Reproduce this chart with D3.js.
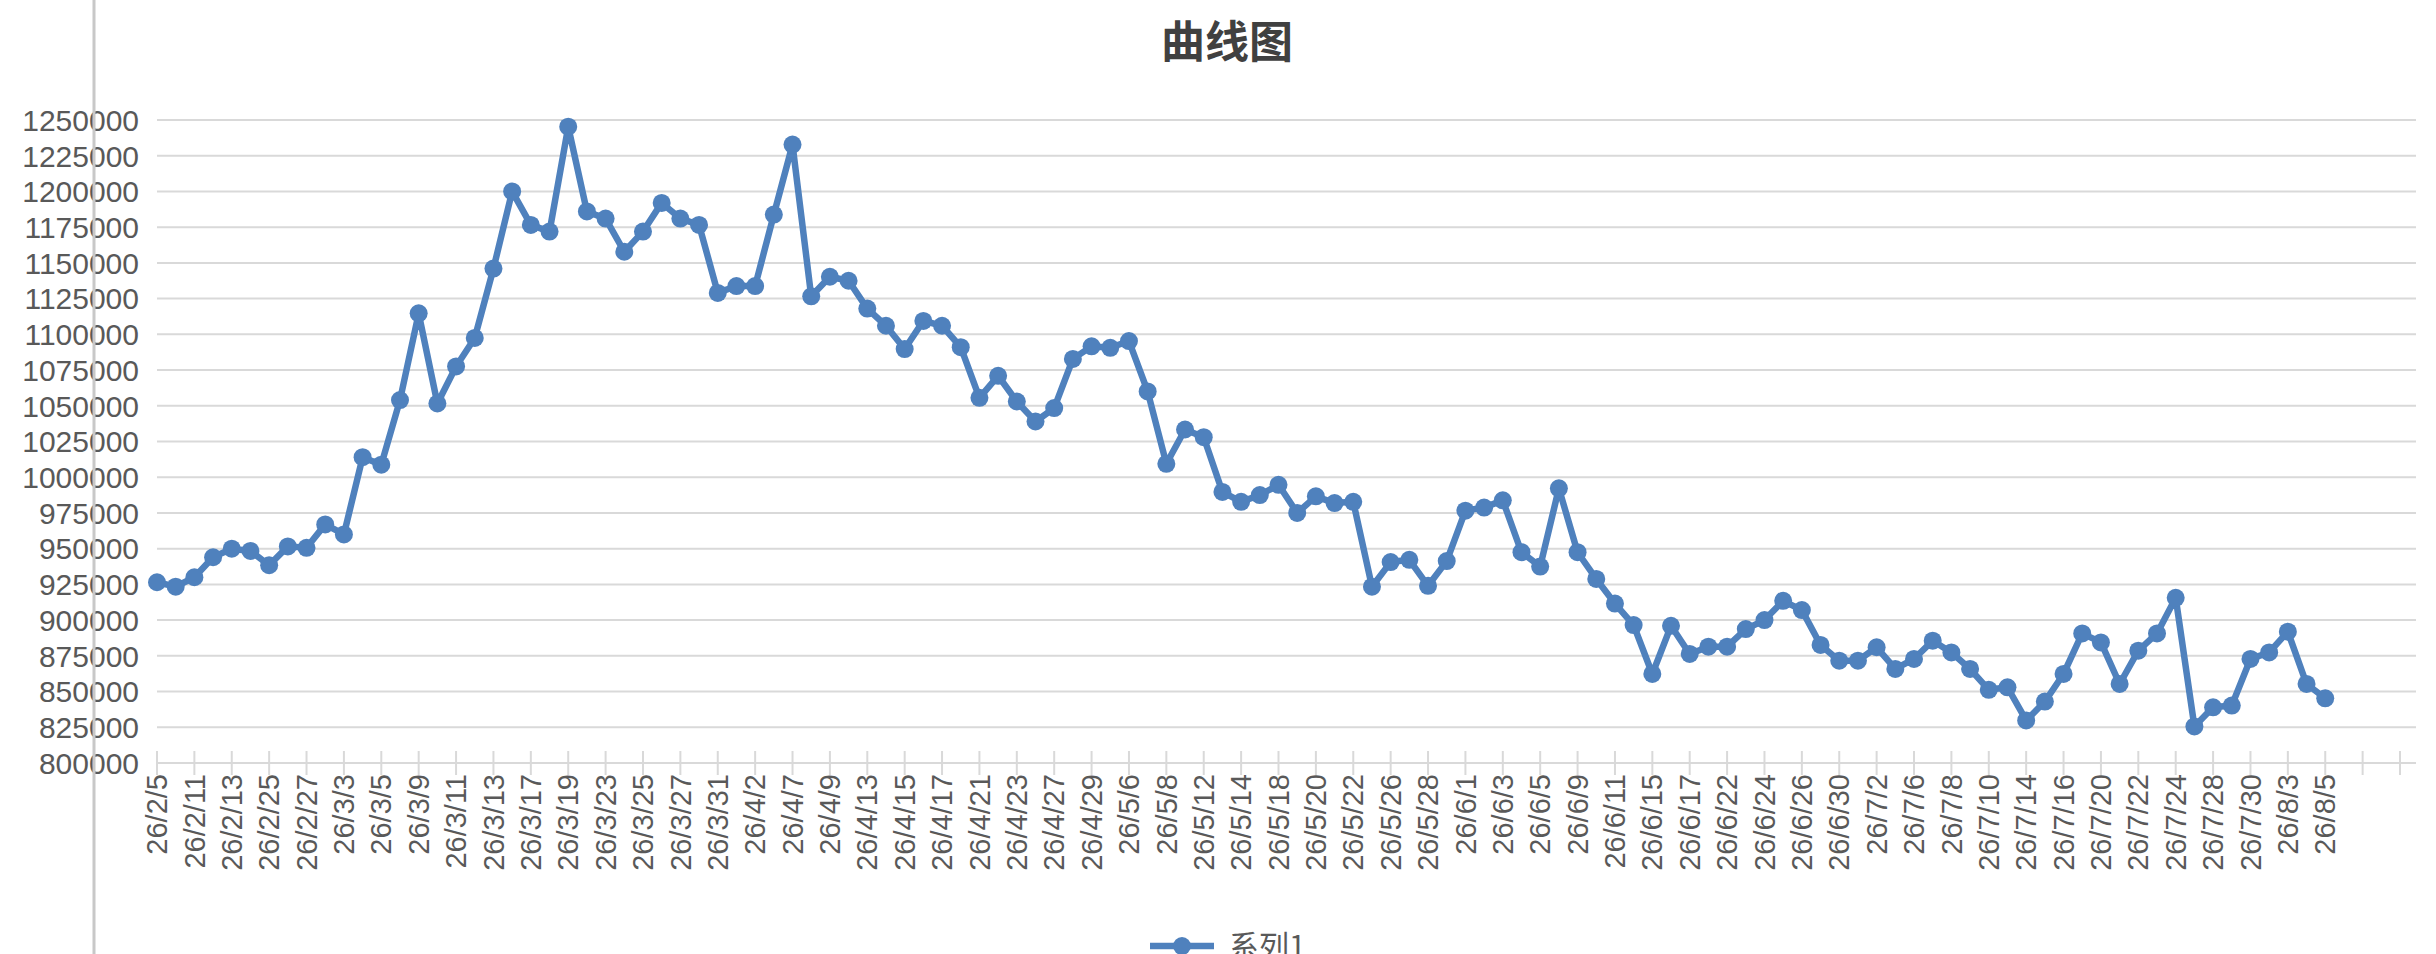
<!DOCTYPE html>
<html><head><meta charset="utf-8">
<script src="https://cdn.jsdelivr.net/npm/d3@7"></script>
<style>body{margin:0;background:#fff}svg{display:block}</style>
</head><body>
<svg id="c" width="2436" height="954"></svg>
<script>
const title = "曲线图";
const seriesName = "系列1";
const tickLabels = ["26/2/5","26/2/11","26/2/13","26/2/25","26/2/27","26/3/3","26/3/5","26/3/9","26/3/11","26/3/13","26/3/17","26/3/19","26/3/23","26/3/25","26/3/27","26/3/31","26/4/2","26/4/7","26/4/9","26/4/13","26/4/15","26/4/17","26/4/21","26/4/23","26/4/27","26/4/29","26/5/6","26/5/8","26/5/12","26/5/14","26/5/18","26/5/20","26/5/22","26/5/26","26/5/28","26/6/1","26/6/3","26/6/5","26/6/9","26/6/11","26/6/15","26/6/17","26/6/22","26/6/24","26/6/26","26/6/30","26/7/2","26/7/6","26/7/8","26/7/10","26/7/14","26/7/16","26/7/20","26/7/22","26/7/24","26/7/28","26/7/30","26/8/3","26/8/5"];
const values = [926500,923400,930000,944000,950000,948400,938400,951600,950600,967000,960000,1014000,1008800,1054000,1114700,1051600,1077500,1097500,1146000,1200000,1176600,1171900,1245300,1186000,1181000,1157800,1171900,1192000,1181000,1176600,1129000,1133800,1133800,1183800,1232800,1126600,1140300,1137500,1118000,1106000,1089700,1109400,1106000,1091000,1055600,1071000,1053000,1039000,1048400,1082800,1091600,1090600,1095300,1060000,1009400,1033400,1028000,989700,982800,987500,994700,975000,986600,981900,982800,923400,940600,942200,924000,941300,976600,978800,983800,947500,937500,992200,947500,928800,911600,896500,862300,896000,876300,881400,881400,893700,900000,913500,907000,882600,871600,871600,881000,865800,872800,885600,877400,865800,851200,853000,829800,843000,862300,890700,884400,855300,878600,890700,915600,825600,839000,840200,872800,877400,891900,855300,845300];
const yTicks = d3.range(800000, 1250001, 25000);

const svg = d3.select("#c");
const font = "'Liberation Sans', Arial, sans-serif";
const nCat = 120;
const x = d3.scaleLinear().domain([0, nCat]).range([157, 2400]);
const y = d3.scaleLinear().domain([800000, 1250000]).range([763, 120]);
const gridRight = 2416;

svg.append("text").attr("x", 1227).attr("y", 58).attr("text-anchor","middle")
  .attr("font-family", "'Noto Sans CJK SC', sans-serif").attr("font-weight","bold")
  .attr("font-size", 44).attr("fill","#404040").text(title);

svg.append("g").selectAll("line").data(yTicks).join("line")
  .attr("x1", 157).attr("x2", gridRight).attr("y1", d=>y(d)).attr("y2", d=>y(d))
  .attr("stroke", "#d9d9d9").attr("stroke-width", 2);

svg.append("g").selectAll("text").data(yTicks).join("text")
  .attr("x", 139).attr("y", d=>y(d)).attr("dy","0.36em").attr("text-anchor","end")
  .attr("font-family", font).attr("font-size", 30).attr("fill","#595959").text(d=>d);

svg.append("line").attr("x1",94).attr("x2",94).attr("y1",0).attr("y2",954)
  .attr("stroke","#c8c8c8").attr("stroke-width",3);

const tickIdx = d3.range(0, nCat + 1, 2);
svg.append("g").selectAll("line").data(tickIdx).join("line")
  .attr("x1", d=>x(d)).attr("x2", d=>x(d)).attr("y1", y(800000)-12).attr("y2", y(800000)+12)
  .attr("stroke","#d9d9d9").attr("stroke-width",2);
svg.append("g").selectAll("text").data(tickLabels).join("text")
  .attr("transform", (d,i)=>`translate(${x(i*2)},774) rotate(-90)`)
  .attr("dy","0.35em").attr("text-anchor","end")
  .attr("font-family", font).attr("font-size", 29).attr("fill","#595959").text(d=>d);

const col = "#4f81bd";
svg.append("path").datum(values)
  .attr("d", d3.line().x((d,i)=>x(i)).y(d=>y(d)))
  .attr("fill","none").attr("stroke",col).attr("stroke-width",6.5).attr("stroke-linejoin","round");
svg.append("g").selectAll("circle").data(values).join("circle")
  .attr("cx",(d,i)=>x(i)).attr("cy",d=>y(d)).attr("r",9).attr("fill",col);

const ly = 946;
svg.append("line").attr("x1",1150).attr("x2",1214).attr("y1",ly).attr("y2",ly)
  .attr("stroke",col).attr("stroke-width",6.5);
svg.append("circle").attr("cx",1182).attr("cy",ly).attr("r",9).attr("fill",col);
svg.append("text").attr("x",1229).attr("y",ly).attr("dy","0.36em")
  .attr("font-family", "'Noto Sans CJK SC', sans-serif").attr("font-size",30).attr("fill","#595959").text(seriesName);
</script>
</body></html>
